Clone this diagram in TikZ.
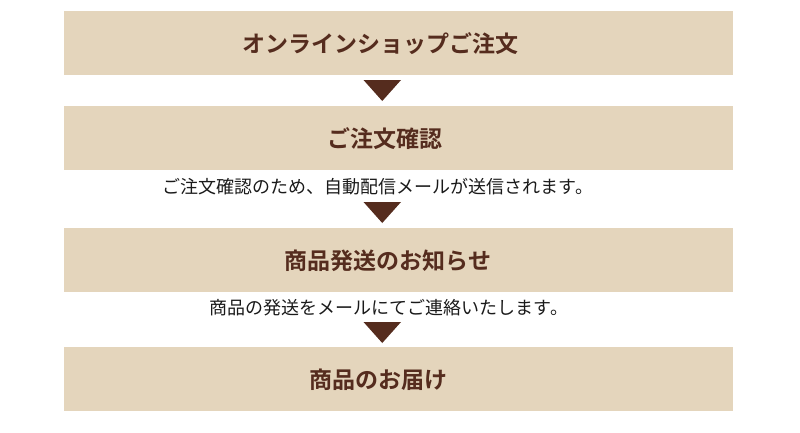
\documentclass[tikz,border=0pt]{standalone}
\usepackage{fontspec}
\newfontfamily\jp{Noto Sans CJK JP}
\newfontfamily\jpb{Noto Sans CJK JP Bold}
\definecolor{boxfill}{HTML}{E4D5BC}
\definecolor{brown}{HTML}{552C1E}
\definecolor{txt}{HTML}{1A1A1A}
\begin{document}
\begin{tikzpicture}[x=1pt,y=-1pt,
  stepbox/.style={fill=boxfill,draw=none,minimum width=669pt,minimum height=64pt,inner sep=0pt},
  title/.style={inner sep=0pt,font=\jpb\fontsize{23pt}{26pt}\selectfont,text=brown},
  note/.style={inner sep=0pt,font=\jp\fontsize{18pt}{21pt}\selectfont,text=txt},
  tri/.style={fill=brown,draw=none}]
\useasboundingbox (0,0) rectangle (800,432);
\node[stepbox] (b1) at (398.5,43) {};
\node[stepbox] (b2) at (398.5,138) {};
\node[stepbox] (b3) at (398.5,260) {};
\node[stepbox] (b4) at (398.5,379) {};
\node[title] (t1) at (380,44) {オンラインショップご注文};
\node[title] (t2) at (385,139) {ご注文確認};
\node[title] (t3) at (388,261) {商品発送のお知らせ};
\node[title] (t4) at (378.5,380) {商品のお届け};
\node[note] (n2) at (378,187) {ご注文確認のため、自動配信メールが送信されます。};
\node[note] (n3) at (389,308) {商品の発送をメールにてご連絡いたします。};
\fill[tri] (363.5,80) -- (401,80) -- (382.25,101) -- cycle;
\fill[tri] (363.5,202) -- (401,202) -- (382.25,223) -- cycle;
\fill[tri] (363.5,322) -- (401,322) -- (382.25,343) -- cycle;
\end{tikzpicture}
\end{document}
